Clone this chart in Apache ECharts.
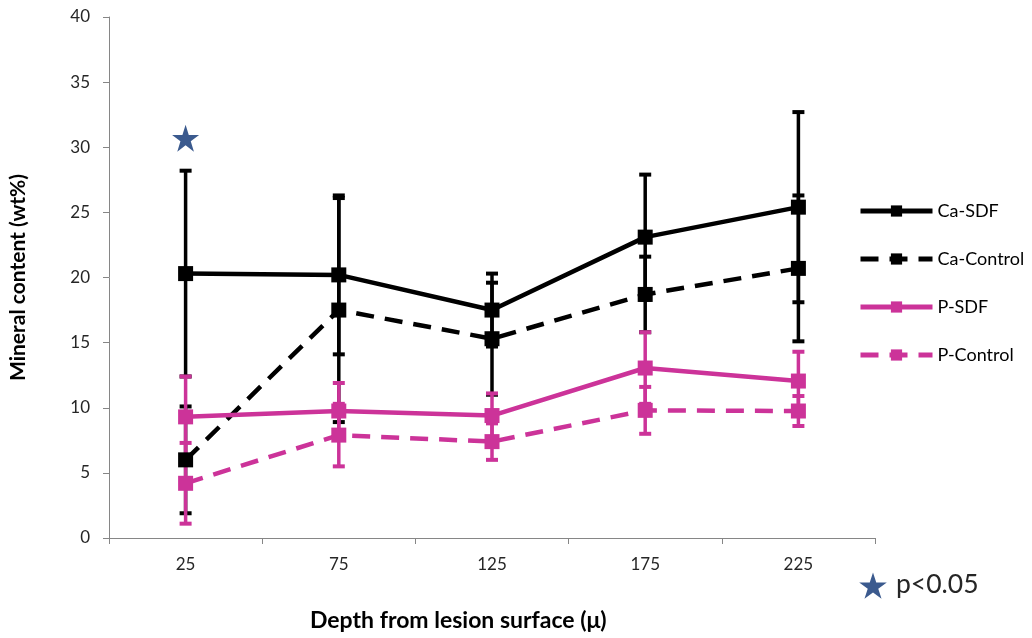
<!DOCTYPE html>
<html><head><meta charset="utf-8">
<script src="https://cdn.jsdelivr.net/npm/echarts@6/dist/echarts.min.js"></script>
<style>html,body{margin:0;padding:0;background:#fff}#c{width:1032px;height:638px}</style>
</head><body><div id="c"></div>
<script>
const categories = ['25', '75', '125', '175', '225'];
const caSDF = [20.3, 20.2, 17.5, 23.1, 25.4];
const caSDFErr = [7.9, 6.1, 2.8, 4.8, 7.3];
const caControl = [6.0, 17.5, 15.3, 18.7, 20.7];
const caControlErr = [4.1, 8.6, 4.3, 2.9, 5.6];
const pSDF = [9.3, 9.75, 9.4, 13.05, 12.05];
const pSDFErr = [3.1, 2.15, 1.7, 2.75, 2.25];
const pControl = [4.2, 7.9, 7.4, 9.8, 9.75];
const pControlErr = [3.1, 2.4, 1.4, 1.8, 1.15];
const sigCategories = ['25'];
const sigValues = [30.7];

const BLACK = '#000000';
const PINK = '#CC3399';
const STAR_COLOR = '#3B5A8E';
const FONT = 'Lato';
const STAR_PATH = 'path://M50,0L61.2,34.5L97.6,34.5L68.2,55.9L79.4,90.5L50,69.1L20.6,90.5L31.8,55.9L2.4,34.5L38.8,34.5Z';

function errSeries(vals, errs, color) {
  return {
    type: 'custom',
    silent: true,
    encode: { x: 0, y: [1, 2] },
    data: vals.map((v, i) => [i, v - errs[i], v + errs[i]]),
    renderItem(params, api) {
      const lo = api.coord([api.value(0), api.value(1)]);
      const hi = api.coord([api.value(0), api.value(2)]);
      const w = 6;
      const capStyle = { stroke: color, lineWidth: 4 };
      return {
        type: 'group',
        children: [
          { type: 'line', shape: { x1: lo[0], y1: lo[1], x2: hi[0], y2: hi[1] }, style: { stroke: color, lineWidth: 3.5 } },
          { type: 'line', shape: { x1: lo[0] - w, y1: lo[1], x2: lo[0] + w, y2: lo[1] }, style: capStyle },
          { type: 'line', shape: { x1: hi[0] - w, y1: hi[1], x2: hi[0] + w, y2: hi[1] }, style: capStyle }
        ]
      };
    }
  };
}
function lineSeries(name, vals, color, dashed) {
  return {
    name, type: 'line', data: vals,
    symbol: 'rect', symbolSize: 15,
    itemStyle: { color },
    lineStyle: { color, width: 4.5, type: dashed ? [18, 11] : 'solid' },
    emphasis: { disabled: true }
  };
}
function starPoints(cx, cy, R) {
  const pts = [];
  for (let k = 0; k < 10; k++) {
    const a = -Math.PI / 2 + k * Math.PI / 5;
    const r = k % 2 ? R * 0.382 : R;
    pts.push([cx + r * Math.cos(a), cy + r * Math.sin(a)]);
  }
  return pts;
}

const chart = echarts.init(document.getElementById('c'));
chart.setOption({
  animation: false,
  textStyle: { fontFamily: FONT },
  title: {
    text: 'Depth from lesion surface (\u03bc)',
    left: 310, top: 609, padding: 0,
    textStyle: { fontFamily: FONT, fontSize: 23, fontWeight: 'bold', color: '#000' }
  },
  grid: { left: 105, right: 157, top: 17, bottom: 100 },
  legend: {
    orient: 'vertical', left: 858, top: 202, padding: 0,
    itemWidth: 72, itemHeight: 14, itemGap: 30,
    textStyle: { fontFamily: FONT, fontSize: 18, color: '#000' },
    lineStyle: { width: 5 },
    data: ['Ca-SDF', 'Ca-Control', 'P-SDF', 'P-Control'],
    selectedMode: false
  },
  xAxis: {
    type: 'category', data: categories, boundaryGap: true,
    axisLine: { lineStyle: { color: '#868686', width: 1 } },
    axisTick: { show: true, length: 6, lineStyle: { color: '#868686' } },
    axisLabel: { fontFamily: FONT, fontSize: 17, color: '#262626', margin: 18 }
  },
  yAxis: {
    type: 'value', min: 0, max: 40, interval: 5,
    name: 'Mineral content (wt%)', nameLocation: 'middle', nameGap: 80,
    nameTextStyle: { fontFamily: FONT, fontSize: 21, fontWeight: 'bold', color: '#000' },
    axisLine: { show: true, lineStyle: { color: '#868686', width: 1 } },
    axisTick: { show: true, length: 6, lineStyle: { color: '#868686' } },
    axisLabel: { fontFamily: FONT, fontSize: 17, color: '#262626', margin: 19 },
    splitLine: { show: false }
  },
  series: [
    errSeries(caSDF, caSDFErr, BLACK),
    lineSeries('Ca-SDF', caSDF, BLACK, false),
    errSeries(caControl, caControlErr, BLACK),
    lineSeries('Ca-Control', caControl, BLACK, true),
    errSeries(pSDF, pSDFErr, PINK),
    lineSeries('P-SDF', pSDF, PINK, false),
    errSeries(pControl, pControlErr, PINK),
    lineSeries('P-Control', pControl, PINK, true),
    {
      type: 'scatter', silent: true,
      data: sigCategories.map((c, i) => [c, sigValues[i]]),
      symbol: STAR_PATH, symbolSize: 27,
      itemStyle: { color: STAR_COLOR, opacity: 1 }
    }
  ],
  graphic: [
    { type: 'polygon', shape: { points: starPoints(873, 587, 14.5) }, style: { fill: STAR_COLOR } },
    { type: 'text', left: 896, top: 571, style: { text: 'p<0.05', fontFamily: FONT, fontSize: 26.5, fill: '#262626' } }
  ]
});
</script>
</body></html>
